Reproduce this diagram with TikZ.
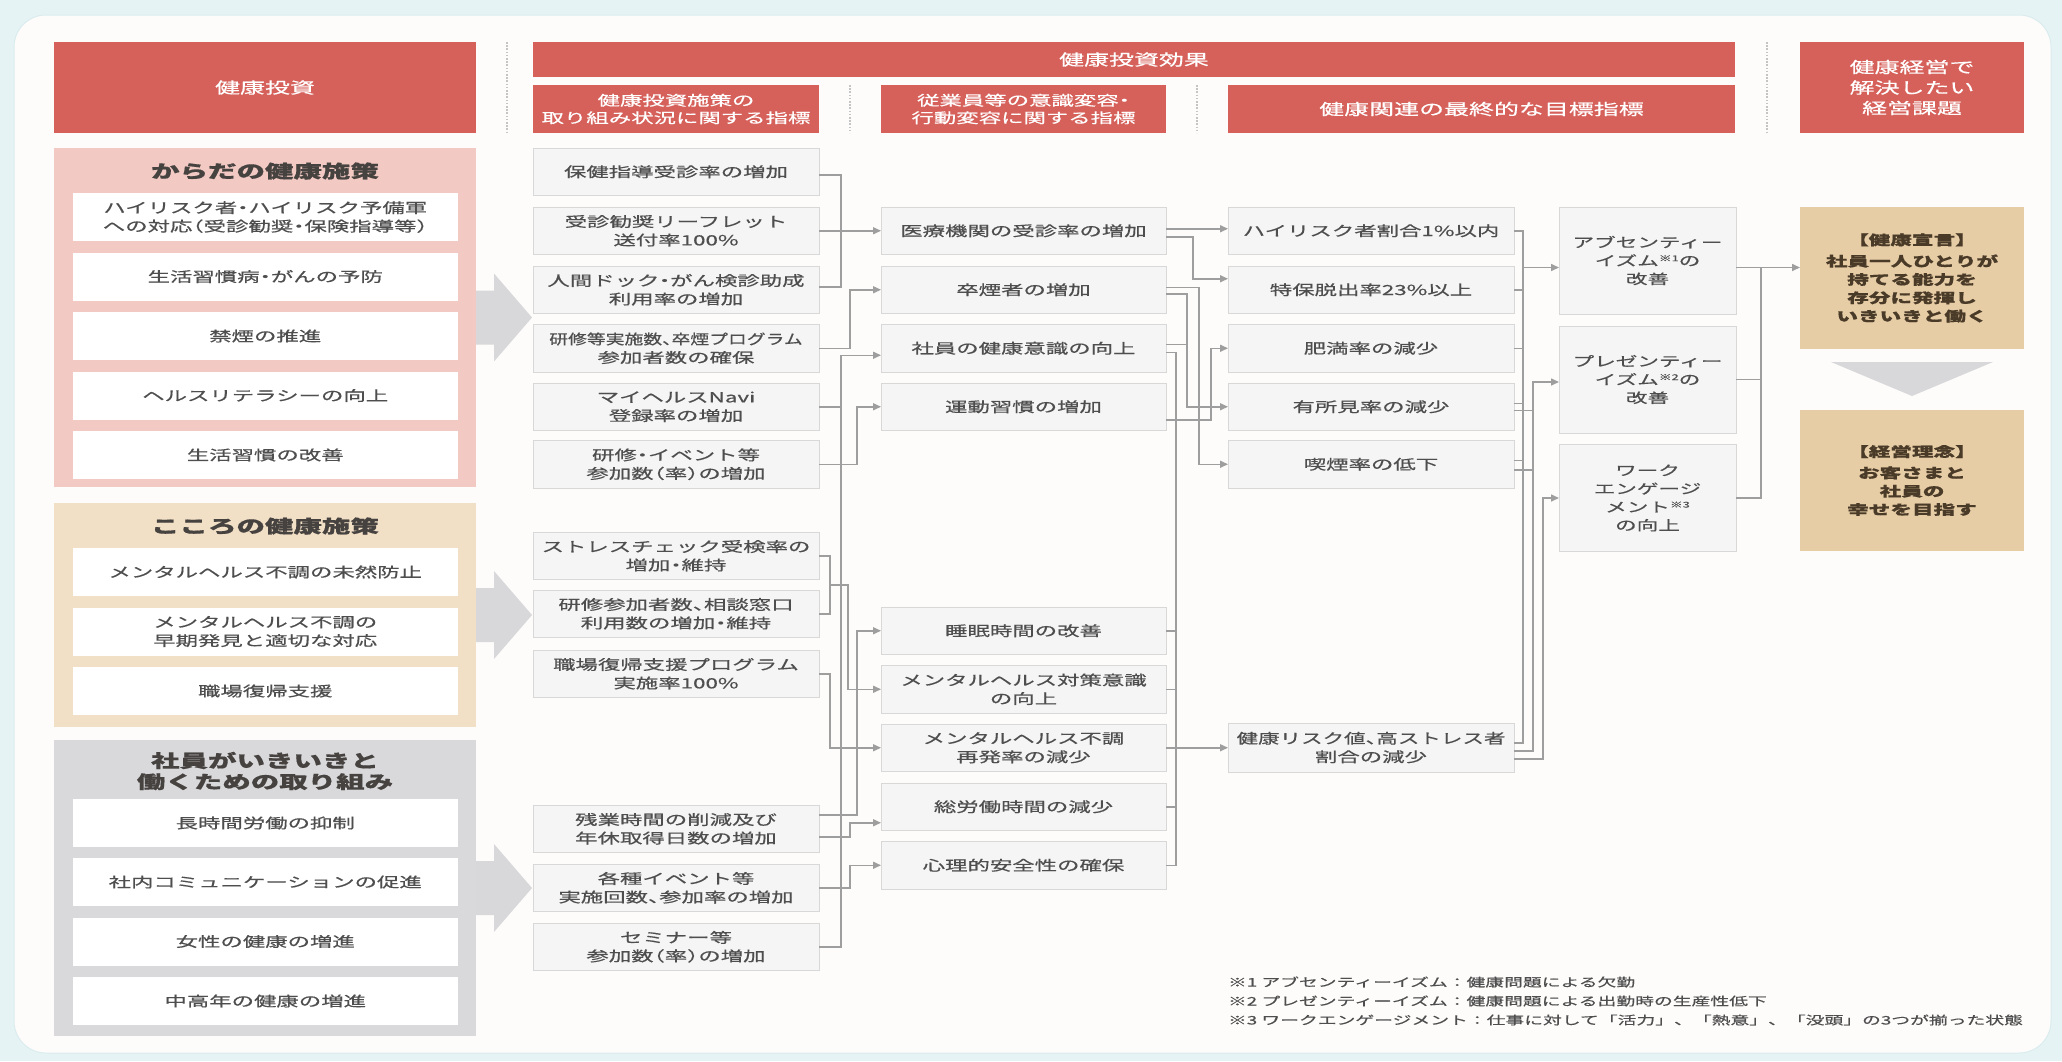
\documentclass[tikz,border=0pt]{standalone}
\usepackage{fontspec}
\usetikzlibrary{arrows.meta}
\newfontfamily\jp[FakeStretch=1.6, FakeBold=0.6]{Noto Sans CJK JP}
\newfontfamily\jph[FakeStretch=1.6, FakeBold=0.6, RawFeature=+halt]{Noto Sans CJK JP}
\definecolor{bgout}{RGB}{230,243,244}
\definecolor{bgin}{RGB}{253,252,250}
\definecolor{bgedge}{RGB}{218,236,238}
\definecolor{hdr}{RGB}{214,96,90}
\definecolor{pinkp}{RGB}{242,201,195}
\definecolor{beigep}{RGB}{241,223,198}
\definecolor{grayp}{RGB}{217,217,220}
\definecolor{boxfill}{RGB}{245,245,245}
\definecolor{boxline}{RGB}{216,216,216}
\definecolor{txt}{RGB}{78,78,78}
\definecolor{ttl}{RGB}{70,66,64}
\definecolor{tanf}{RGB}{231,205,166}
\definecolor{tantxt}{RGB}{74,58,40}
\definecolor{lncol}{RGB}{158,158,158}
\definecolor{bigarr}{RGB}{216,216,218}
\definecolor{dotcol}{RGB}{196,196,196}
\newcommand\fbody{\jph\fontsize{14}{18.5}\selectfont}
\newcommand\fhead{\jp\fontsize{15.6}{20.5}\selectfont}
\newcommand\fsub{\jph\fontsize{14}{17.5}\selectfont}
\newcommand\ftitle{\jp\bfseries\fontsize{17.8}{21}\selectfont}
\newcommand\fef{\jph\fontsize{13.5}{18.3}\selectfont}
\newcommand\fnote{\jp\fontsize{11.75}{19}\selectfont}
\newcommand\supm[1]{\raisebox{4.5pt}{\fontsize{8}{8}\selectfont #1}}
\tikzset{
  hbox/.style={fill=hdr, text=white, align=center, anchor=north west, font=\fhead},
  panel/.style={anchor=north west, minimum width=422},
  ptitle/.style={text=ttl, font=\ftitle, align=center},
  item/.style={fill=white, anchor=north west, minimum width=385.5, minimum height=48, text=txt, font=\fbody, align=center},
  ibox/.style={fill=boxfill, draw=boxline, line width=1pt, anchor=north west, text=txt, font=\fbody, align=center},
  colB/.style={ibox, minimum width=286, minimum height=47.5},
  colC/.style={ibox, minimum width=285, minimum height=47.5},
  colD/.style={ibox, minimum width=286, minimum height=47.5},
  colE/.style={ibox, minimum width=177, minimum height=107, font=\fef},
  fbox/.style={fill=tanf, anchor=north west, minimum width=224, minimum height=142, text=tantxt, font=\fef\bfseries, align=center},
  ln/.style={draw=lncol, line width=1.5pt},
  arr/.style={ln, -{Triangle[length=8pt,width=7pt]}},
  dotl/.style={draw=dotcol, line width=1.3pt, dash pattern=on 1.6pt off 1.6pt},
}
\begin{document}
\begin{tikzpicture}[x=1pt, y=-1pt, every node/.style={inner sep=0pt, outer sep=0pt}]
\useasboundingbox (0,0) rectangle (2062,1061);
\fill[bgout] (0,0) rectangle (2062,1061);
\filldraw[fill=bgin, draw=bgedge, line width=1pt, rounded corners=32pt] (14,15) rectangle (2051,1053);

% headers
\node[hbox, minimum width=422, minimum height=91] (h0) at (54,42) {健康投資};
\node[hbox, minimum width=1202, minimum height=35] (h1) at (533,42) {健康投資効果};
\node[hbox, font=\fsub, minimum width=286, minimum height=48] (h2) at (533,85) {健康投資施策の\\取り組み状況に関する指標};
\node[hbox, font=\fsub, minimum width=285, minimum height=48] (h3) at (881,85) {従業員等の意識変容・\\行動変容に関する指標};
\node[hbox, minimum width=507, minimum height=48] (h4) at (1228,85) {健康関連の最終的な目標指標};
\node[hbox, minimum width=224, minimum height=91] (h5) at (1800,42) {健康経営で\\解決したい\\経営課題};
\draw[dotl] (507,42) -- (507,133);
\draw[dotl] (850,85) -- (850,133);
\draw[dotl] (1197,85) -- (1197,133);
\draw[dotl] (1767,42) -- (1767,133);

% left panels
\node[panel, fill=pinkp, minimum height=339] (pa) at (54,148) {};
\node[ptitle] (pat) at (265,171) {からだの健康施策};
\node[item] (ka1) at (72.5,193) {ハイリスク者・ハイリスク予備軍\\への対応（受診勧奨・保険指導等）};
\node[item] (ka2) at (72.5,252.5) {生活習慣病・がんの予防};
\node[item] (ka3) at (72.5,312) {禁煙の推進};
\node[item] (ka4) at (72.5,371.5) {ヘルスリテラシーの向上};
\node[item] (ka5) at (72.5,431) {生活習慣の改善};

\node[panel, fill=beigep, minimum height=224] (pb) at (54,503) {};
\node[ptitle] (pbt) at (265,526) {こころの健康施策};
\node[item] (ko1) at (72.5,548) {メンタルヘルス不調の未然防止};
\node[item] (ko2) at (72.5,607.5) {メンタルヘルス不調の\\早期発見と適切な対応};
\node[item] (ko3) at (72.5,667) {職場復帰支援};

\node[panel, fill=grayp, minimum height=296] (pc) at (54,740) {};
\node[ptitle] (pct) at (265,771) {社員がいきいきと\\働くための取り組み};
\node[item] (sh1) at (72.5,799) {長時間労働の抑制};
\node[item] (sh2) at (72.5,858) {社内コミュニケーションの促進};
\node[item] (sh3) at (72.5,917.5) {女性の健康の増進};
\node[item] (sh4) at (72.5,977) {中高年の健康の増進};

\foreach \p in {pa,pb,pc}
  \fill[bigarr] ([yshift=27pt]\p.east) -- ++(18,0) -- ++(0,-17) -- ++(38,44) -- ++(-38,44) -- ++(0,-17) -- ++(-18,0) -- cycle;

% column B
\node[colB] (b1) at (533,148) {保健指導受診率の増加};
\node[colB] (b2) at (533,207) {受診勧奨リーフレット\\送付率100\%};
\node[colB] (b3) at (533,266) {人間ドック・がん検診助成\\利用率の増加};
\node[colB] (b4) at (533,324.5) {\scalebox{0.84}[1]{研修等実施数、卒煙プログラム}\\参加者数の確保};
\node[colB] (b5) at (533,383) {マイヘルスNavi\\登録率の増加};
\node[colB] (b6) at (533,440.5) {研修・イベント等\\参加数（率）の増加};
\node[colB] (b7) at (533,532) {ストレスチェック受検率の\\増加・維持};
\node[colB] (b8) at (533,590) {研修参加者数、相談窓口\\利用数の増加・維持};
\node[colB] (b9) at (533,650) {職場復帰支援プログラム\\実施率100\%};
\node[colB] (b10) at (533,805) {残業時間の削減及び\\年休取得日数の増加};
\node[colB] (b11) at (533,864) {各種イベント等\\実施回数、参加率の増加};
\node[colB] (b12) at (533,923) {セミナー等\\参加数（率）の増加};

% column C
\node[colC] (c1) at (881,207) {医療機関の受診率の増加};
\node[colC] (c2) at (881,266) {卒煙者の増加};
\node[colC] (c3) at (881,324.5) {社員の健康意識の向上};
\node[colC] (c4) at (881,383) {運動習慣の増加};
\node[colC] (c5) at (881,607) {睡眠時間の改善};
\node[colC] (c6) at (881,665.5) {メンタルヘルス対策意識\\の向上};
\node[colC] (c7) at (881,724) {メンタルヘルス不調\\再発率の減少};
\node[colC] (c8) at (881,783) {総労働時間の減少};
\node[colC] (c9) at (881,841.5) {心理的安全性の確保};

% column D
\node[colD] (d1) at (1228,207) {ハイリスク者割合1\%以内};
\node[colD] (d2) at (1228,266) {特保脱出率23\%以上};
\node[colD] (d3) at (1228,324.5) {肥満率の減少};
\node[colD] (d4) at (1228,383) {有所見率の減少};
\node[colD] (d5) at (1228,440.5) {喫煙率の低下};
\node[colD, minimum height=49] (d6) at (1228,723) {\scalebox{0.96}[1]{健康リスク値、高ストレス者}\\割合の減少};

% column E
\node[colE] (e1) at (1559,207) {アブセンティー\\イズム\supm{※1}の\\改善};
\node[colE] (e2) at (1559,326) {プレゼンティー\\イズム\supm{※2}の\\改善};
\node[colE] (e3) at (1559,444.5) {ワーク\\エンゲージ\\メント\supm{※3}\\の向上};

% column F
\node[fbox] (f1) at (1800,207) {【健康宣言】\\[3pt]社員一人ひとりが\\持てる能力を\\存分に発揮し\\いきいきと働く};
\node[fbox, minimum height=141] (f2) at (1800,410) {【経営理念】\\[3pt]お客さまと\\社員の\\幸せを目指す};
\fill[bigarr] ([shift={(-81,13)}]f1.south) -- ([shift={(81,13)}]f1.south) -- ([shift={(0,47)}]f1.south) -- cycle;

% footnotes
\node[anchor=west, text=txt, font=\fnote] (n1) at (1228,982) {※1 アブセンティーイズム：健康問題による欠勤};
\node[anchor=west, text=txt, font=\fnote] (n2) at (1228,1001) {※2 プレゼンティーイズム：健康問題による出勤時の生産性低下};
\node[anchor=west, text=txt, font=\fnote] (n3) at (1228,1020) {※3 ワークエンゲージメント：仕事に対して「活力」、「熱意」、「没頭」の3つが揃った状態};

% connectors B -> C
\draw[ln] ([yshift=-3pt]b1.east) -- ++(22,0) |- ([yshift=3pt]b3.east);
\draw[arr] (b2.east) -- (c1.west);
\draw[arr] (b4.east) -- ++(31,0) |- (c2.west);
\draw[arr] (b12.east) -- ++(22,0) |- ([yshift=-7pt]c3.west);
\draw[ln] (b5.east) -- ++(22,0);
\draw[arr] (b6.east) -- ++(38,0) |- (c4.west);
\draw[ln] (b7.east) -- ++(11,0) |- (b8.east);
\draw[arr] ([yshift=-29pt]b7.east) ++(11,0) -- ++(18,0) |- (c6.west);
\draw[arr] (b9.east) -- ++(11,0) |- (c7.west);
\draw[arr] ([yshift=14pt]b10.east) -- ++(38,0) |- (c5.west);
\draw[arr] ([yshift=-8pt]b10.east) -- ++(31,0) |- ([yshift=-16pt]c8.west);
\draw[arr] (b11.east) -- ++(31,0) |- (c9.west);

% connectors C -> D
\draw[arr] ([yshift=2pt]c1.east) -- ++(62,0);
\draw[arr] ([yshift=-6pt]c1.east) -- ++(27,0) |- ([yshift=11pt]d2.west);
\draw[arr] ([yshift=2.5pt]c2.east) -- ++(33,0) |- (d5.west);
\draw[arr] ([yshift=-4pt]c2.east) -- ++(21,0) |- (d4.west);
\draw[ln] ([yshift=4pt]c3.east) -- ++(21,0);
\draw[ln] ([yshift=-4pt]c3.east) -- ++(10,0) |- (c9.east);
\draw[arr] ([yshift=-13pt]c4.east) -- ++(45,0) |- (d3.west);
\draw[ln] (c5.east) -- ++(10,0);
\draw[ln] (c6.east) -- ++(10,0);
\draw[ln] (c8.east) -- ++(10,0);
\draw[arr] (c7.east) -- (c7.east -| d6.west);

% connectors D -> E
\draw[ln] (d1.east) -- ++(9,0) |- ([yshift=4.5pt]d6.east);
\draw[ln] (d2.east) -- ++(9,0);
\draw[ln] (d3.east) -- ++(9,0);
\draw[ln] ([yshift=3.5pt]d4.east) -- ++(9,0);
\draw[ln] ([yshift=4pt]d5.east) -- ++(9,0);
\draw[arr] ([yshift=-7pt]e1.west) ++(-36,0) -- ([yshift=-7pt]e1.west);
\draw[ln] ([yshift=-3.5pt]d4.east) -- ++(19,0);
\draw[ln] ([yshift=-5.5pt]d5.east) -- ++(19,0);
\draw[arr] ([yshift=-3.5pt]d6.east) -- ++(19,0) |- ([yshift=-2.5pt]e2.west);
\draw[arr] ([yshift=-11.5pt]d6.east) -- ++(29,0) |- (e3.west);

% connectors E -> F
\draw[arr] ([yshift=-7pt]e1.east) -- ++(64,0);
\draw[ln] (e2.east) -- ++(25,0);
\draw[ln] (e3.east) -- ++(25,0) |- ([yshift=-7pt]e1.east);
\end{tikzpicture}
\end{document}
